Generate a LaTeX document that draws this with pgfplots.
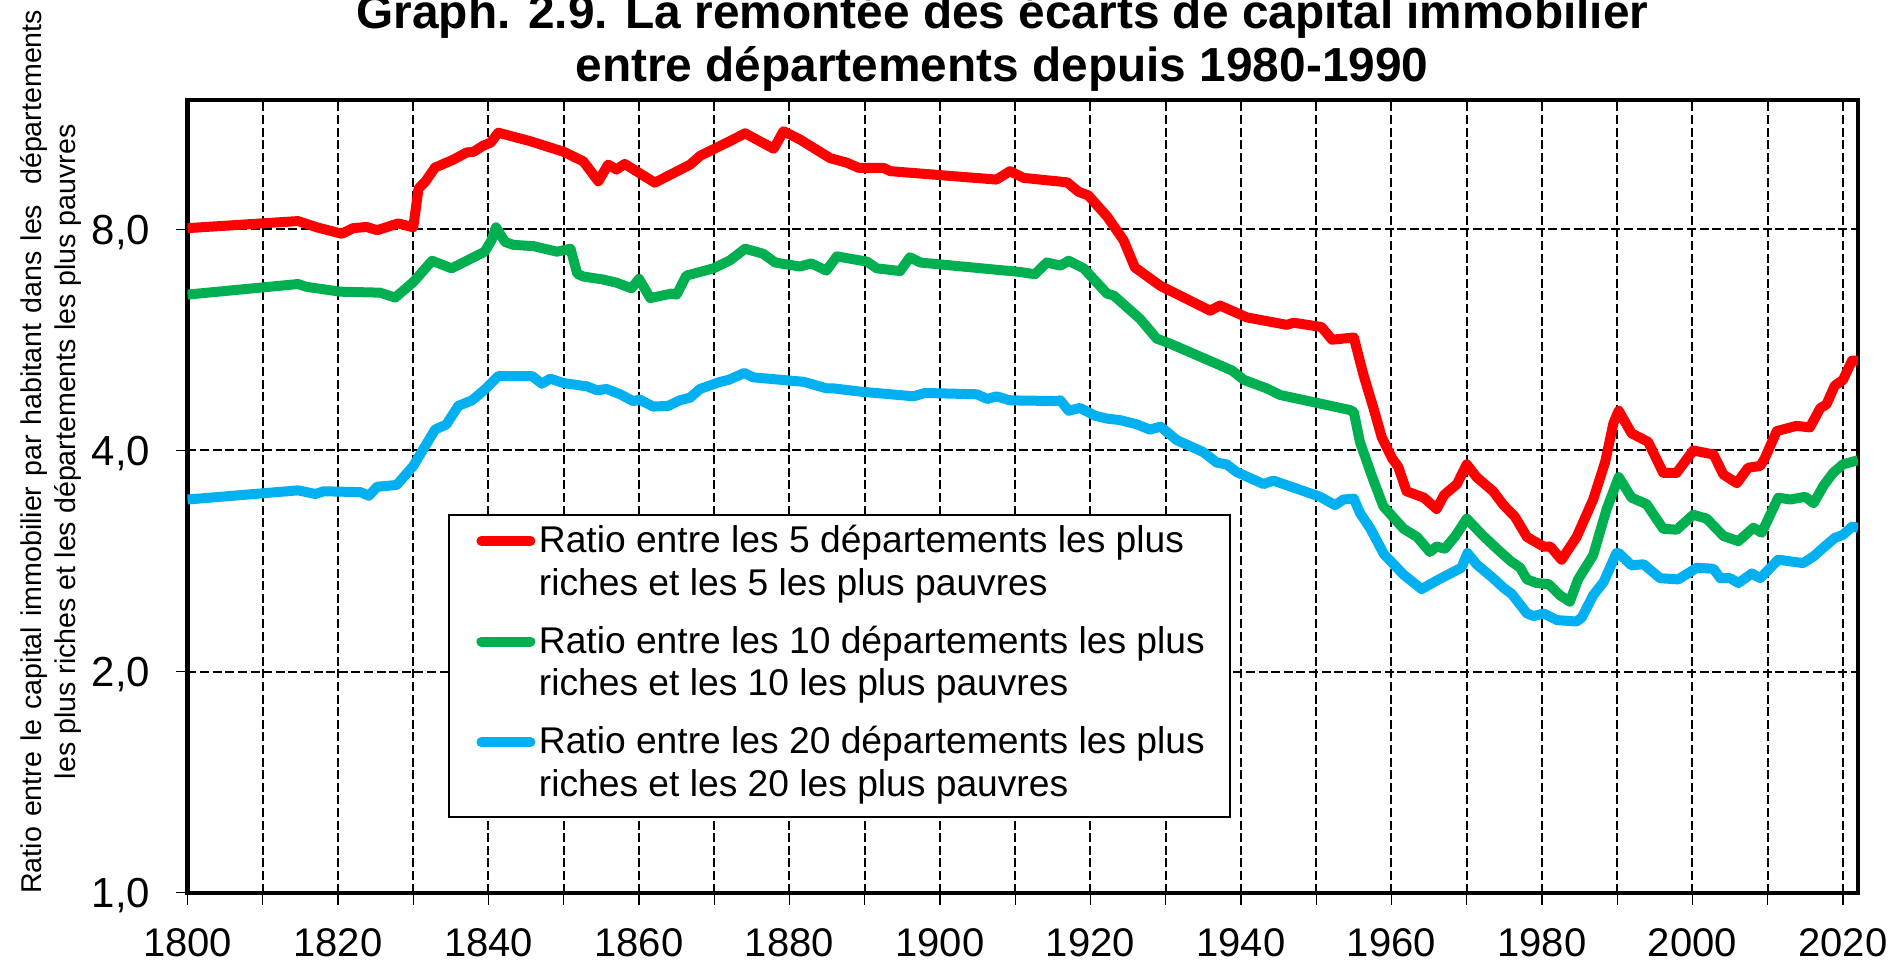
\documentclass[border=0pt]{standalone}
\usepackage{fontspec}
\setmainfont{Liberation Sans}
\usepackage{pgfplots}
\pgfplotsset{compat=1.18}
\definecolor{cred}{RGB}{255,0,0}
\definecolor{cgreen}{RGB}{0,176,80}
\definecolor{cblue}{RGB}{0,176,240}
\begin{document}
\begin{tikzpicture}
\useasboundingbox (-93.75pt,-34.15pt) rectangle (852.75pt,446.35pt);
\begin{axis}[
  at={(0pt,0pt)}, anchor=south west,
  scale only axis, width=835.25pt, height=396.35pt,
  xmin=1800, xmax=2022, ymin=1, ymax=12,
  ymode=log, log basis y=2,
  xtick={1800,1820,...,2020},
  xticklabels={1800,1820,1840,1860,1880,1900,1920,1940,1960,1980,2000,2020},
  minor xtick={1810,1830,...,2010},
  ytick={1,2,4,8},
  yticklabels={{1,0},{2,0},{4,0},{8,0}},
  yminorticks=false,
  xmajorgrids, xminorgrids, ymajorgrids,
  major grid style={black, line width=1pt, dash pattern=on 4.5pt off 1.8pt},
  minor grid style={black, line width=1pt, dash pattern=on 4.5pt off 1.8pt},
  axis line style={line width=2.1pt},
  tick align=outside, tick pos=left,
  tick style={black, line width=0.7pt},
  major tick length=6pt, minor tick length=6pt,
  xticklabel style={font=\fontsize{20}{24}\selectfont, inner sep=0pt},
  xticklabel shift=11.65pt,
  yticklabel style={font=\fontsize{21}{25}\selectfont, inner sep=0pt, anchor=base east, yshift=-7.5pt},
  yticklabel shift=12.5pt,
  every axis plot/.append style={line width=5pt, line join=round},
  legend image code/.code={\path (0pt,0pt); \draw[#1, line cap=round] (1.75pt,5.8pt) -- (26.25pt,5.8pt);},
  legend style={at={(0.1559,0.4777)}, anchor=north west, draw=black, line width=1pt, fill=white,
    font=\fontsize{18.6}{21.4}\selectfont,
    inner xsep=12pt, inner ysep=5pt, row sep=11.4pt, column sep=1.75pt,
    nodes={inner sep=0pt, text depth=}, cells={anchor=base west}},
]
\addplot[cred] coordinates {
(1800,8.03) (1814.7,8.21) (1817.2,8.05) (1820.5,7.89) (1822,8.03) (1823.8,8.06) (1825.2,7.98) (1828,8.15) (1830,8.05)
(1830.7,9.09) (1831.6,9.29) (1832.9,9.71) (1835.3,9.95) (1837.1,10.18) (1838,10.2) (1839.3,10.4) (1840.3,10.5) (1841.3,10.83)
(1845.5,10.55) (1850,10.2) (1852.6,9.9) (1854.6,9.3) (1855.9,9.8) (1857,9.65) (1858.1,9.82) (1862.1,9.26) (1866.8,9.8)
(1868.1,10.07) (1872.5,10.6) (1874.1,10.81) (1877.9,10.3) (1879.2,10.88) (1881.4,10.6) (1885.4,10.0) (1887.6,9.86)
(1889.2,9.7) (1892.5,9.7) (1893.4,9.6) (1907.5,9.35) (1909.3,9.6) (1911.1,9.4) (1916.9,9.27) (1918.4,9.0) (1919.7,8.9)
(1922.2,8.33) (1924.4,7.73) (1925.9,7.1) (1929.3,6.7) (1935.9,6.2) (1937.2,6.3) (1940.8,6.07) (1946.1,5.93) (1947,5.97)
(1950.7,5.89) (1952.1,5.66) (1955,5.7) (1955.6,5.39) (1956.3,5.06) (1957.6,4.57) (1958.7,4.17) (1960.1,3.9) (1960.9,3.8)
(1962,3.52) (1964.3,3.45) (1966,3.33) (1967,3.48) (1968.7,3.6) (1970,3.83) (1971.3,3.68) (1973.5,3.52) (1974.9,3.37)
(1976.4,3.25) (1978,3.05) (1980.2,2.96) (1981.1,2.96) (1982.6,2.84) (1984.6,3.05) (1986.8,3.43) (1988.4,3.86) (1989.5,4.36)
(1990.2,4.53) (1991.9,4.22) (1994.1,4.11) (1996.1,3.73) (1997.9,3.73) (2000.1,4.0) (2002.8,3.95) (2004.1,3.71) (2005.9,3.61)
(2007.4,3.79) (2009,3.81) (2009.6,3.9) (2011.2,4.25) (2013.8,4.32) (2015.6,4.3) (2017,4.57) (2017.8,4.62) (2018.9,4.9)
(2020,4.99) (2021.2,5.3) (2022,5.3)
};
\addlegendentry{\parbox[t]{333.5pt}{\mbox{Ratio entre les 5 départements les plus}\\\mbox{riches et les 5 les plus pauvres}}}
\addplot[cgreen] coordinates {
(1800,6.52) (1814.7,6.74) (1815.8,6.68) (1820.3,6.58) (1825.6,6.56) (1827.6,6.46) (1830,6.78) (1832.5,7.25) (1835.1,7.08)
(1837.1,7.25) (1839.5,7.46) (1840.4,7.73) (1841,8.05) (1842.2,7.69) (1843.3,7.62) (1846,7.59) (1849.1,7.46) (1850.9,7.53)
(1851.8,6.96) (1852.6,6.9) (1855.1,6.84) (1857,6.77) (1859,6.65) (1860,6.85) (1861.5,6.45) (1864.3,6.54) (1865,6.52)
(1866.3,6.92) (1869.9,7.08) (1872.1,7.26) (1874.1,7.53) (1876.5,7.41) (1878.1,7.21) (1881.4,7.12) (1882.9,7.19) (1884.9,7.03)
(1886.3,7.35) (1890.3,7.23) (1891.6,7.08) (1894.7,7.02) (1896,7.33) (1897.4,7.21) (1910.6,7.0) (1912.6,6.95) (1914.2,7.21)
(1916,7.14) (1917.1,7.25) (1919.1,7.08) (1922.2,6.54) (1923.1,6.5) (1926.6,6.04) (1928.8,5.68) (1930.6,5.59) (1938.8,5.14)
(1940.4,4.99) (1943.4,4.86) (1945.2,4.76) (1954.5,4.54) (1955,4.51) (1955.8,4.11) (1957.4,3.69) (1958.9,3.36) (1961.6,3.13)
(1963.4,3.05) (1965.1,2.91) (1966,2.96) (1967.1,2.94) (1968.5,3.06) (1970,3.23) (1972.2,3.06) (1974,2.94) (1975.8,2.83)
(1977.1,2.77) (1978,2.67) (1979.3,2.64) (1980.9,2.63) (1982.4,2.54) (1983.7,2.49) (1984.8,2.67) (1986.8,2.88) (1988.6,3.33)
(1990.2,3.68) (1991.9,3.45) (1993.9,3.38) (1996.1,3.13) (1997.9,3.12) (2000.1,3.27) (2001.9,3.23) (2004.1,3.06) (2006.1,3.01)
(2008.1,3.14) (2009.2,3.09) (2011.4,3.45) (2013,3.43) (2015,3.46) (2016.1,3.39) (2017.4,3.58) (2018.7,3.73) (2020,3.83)
(2022,3.88)
};
\addlegendentry{\parbox[t]{333.5pt}{\mbox{Ratio entre les 10 départements les plus}\\\mbox{riches et les 10 les plus pauvres}}}
\addplot[cblue] coordinates {
(1800,3.43) (1814.7,3.53) (1817,3.49) (1818.1,3.52) (1823,3.51) (1824.1,3.47) (1825.2,3.57) (1827.8,3.59) (1830,3.81)
(1832.9,4.27) (1834.4,4.34) (1836,4.6) (1837.8,4.68) (1839.5,4.84) (1841.3,5.05) (1845.8,5.05) (1847.1,4.93) (1848.2,5.01)
(1850,4.94) (1853.1,4.89) (1854.4,4.83) (1855.7,4.85) (1857.5,4.77) (1859.2,4.67) (1860.1,4.69) (1861.9,4.59) (1863.9,4.6)
(1865.4,4.68) (1866.8,4.72) (1868.1,4.85) (1870.8,4.96) (1871.9,4.99) (1874,5.1) (1875.2,5.03) (1881.9,4.96) (1884.9,4.86)
(1885.8,4.86) (1889.4,4.81) (1896.5,4.74) (1898,4.79) (1904.9,4.77) (1906.3,4.7) (1907.5,4.74) (1909.3,4.68) (1915.5,4.67)
(1916,4.68) (1917.1,4.53) (1918.6,4.57) (1920.6,4.46) (1922.2,4.42) (1923.9,4.4) (1926.2,4.34) (1927.9,4.27) (1929.3,4.31)
(1931.5,4.13) (1935,3.98) (1936.8,3.85) (1938.1,3.83) (1939.4,3.74) (1943,3.6) (1944.3,3.64) (1950.5,3.46) (1952.5,3.37)
(1953.6,3.43) (1955,3.44) (1955.8,3.29) (1957.2,3.13) (1959,2.89) (1961.6,2.71) (1964,2.59) (1966,2.66) (1968.4,2.74)
(1969.3,2.77) (1970.1,2.9) (1971.3,2.8) (1973.5,2.68) (1974.9,2.6) (1976,2.55) (1978,2.4) (1978.9,2.38) (1980.2,2.4)
(1982,2.35) (1984.6,2.34) (1985.3,2.37) (1986.8,2.54) (1988.2,2.65) (1989.9,2.9) (1990.2,2.9) (1991.9,2.79) (1993.5,2.8)
(1995.7,2.68) (1998.1,2.67) (2000.6,2.77) (2002.8,2.76) (2003.7,2.68) (2005,2.68) (2006.1,2.64) (2007.9,2.72) (2009,2.68)
(2011.4,2.84) (2014.7,2.81) (2016.1,2.87) (2017.4,2.95) (2018.9,3.04) (2020,3.07) (2021.2,3.15) (2022,3.14)
};
\addlegendentry{\parbox[t]{333.5pt}{\mbox{Ratio entre les 20 départements les plus}\\\mbox{riches et les 20 les plus pauvres}\par\vspace{1.5pt}}}
\end{axis}
\node[anchor=base, font=\bfseries\fontsize{23.9}{26.5}\selectfont, inner sep=0pt] at (407.5pt,431.85pt) {Graph. 2.9. La remontée des écarts de capital immobilier};
\node[anchor=base, font=\bfseries\fontsize{23.9}{26.5}\selectfont, inner sep=0pt] at (407.25pt,405.35pt) {entre départements depuis 1980-1990};
\node[rotate=90, align=center, inner sep=0pt, font=\fontsize{14.3}{17}\selectfont] at (-68.25pt,220.5pt) {\makebox[442pt][s]{Ratio entre le capital immobilier par habitant dans les\ \ départements}\\les plus riches et les départements les plus pauvres};
\end{tikzpicture}
\end{document}
